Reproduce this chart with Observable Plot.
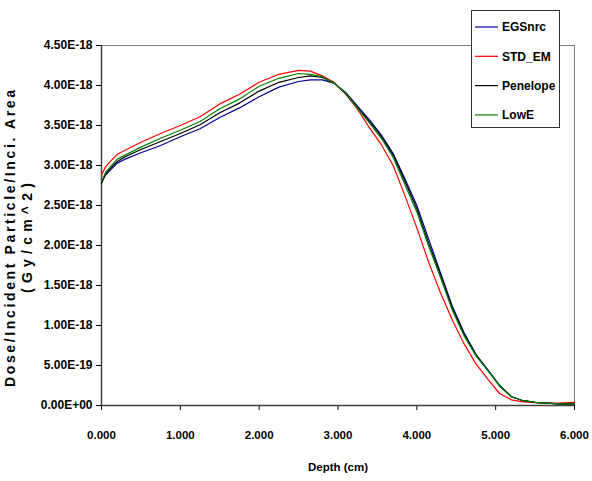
<!DOCTYPE html>
<html>
<head>
<meta charset="utf-8">
<script src="https://cdn.jsdelivr.net/npm/d3@7"></script>
<script src="https://cdn.jsdelivr.net/npm/@observablehq/plot@0.6"></script>
<style>
  body { margin: 0; background: #fff; }
  #chart { width: 592px; height: 481px; }
</style>
</head>
<body>
<div id="chart"></div>
<script>
// Depth-dose profiles (dose in units of 1e-18 Gy/cm^2 per incident particle)
const UNIT = 1e-18;
const depth = [0, 0.05, 0.1, 0.2, 0.3, 0.5, 0.75, 1.0, 1.25, 1.5, 1.75, 2.0, 2.25, 2.5, 2.65, 2.8, 2.95, 3.1, 3.25, 3.4, 3.55, 3.7, 3.85, 4.0, 4.15, 4.3, 4.45, 4.6, 4.75, 4.9, 5.05, 5.2, 5.35, 5.5, 5.65, 5.8, 6.0];
const egsnrc   = [2.78, 2.88, 2.93, 3.03, 3.08, 3.16, 3.25, 3.36, 3.46, 3.60, 3.72, 3.86, 3.98, 4.05, 4.07, 4.07, 4.03, 3.91, 3.74, 3.57, 3.38, 3.15, 2.83, 2.50, 2.08, 1.66, 1.24, 0.91, 0.64, 0.45, 0.25, 0.11, 0.06, 0.04, 0.03, 0.02, 0.02];
const stdEm    = [2.88, 2.98, 3.04, 3.14, 3.19, 3.29, 3.40, 3.50, 3.61, 3.77, 3.89, 4.04, 4.14, 4.19, 4.18, 4.12, 4.04, 3.89, 3.70, 3.47, 3.26, 3.00, 2.62, 2.22, 1.79, 1.41, 1.07, 0.77, 0.52, 0.33, 0.15, 0.07, 0.045, 0.035, 0.03, 0.03, 0.04];
const penelope = [2.78, 2.89, 2.95, 3.05, 3.11, 3.20, 3.30, 3.40, 3.51, 3.66, 3.78, 3.93, 4.04, 4.10, 4.12, 4.10, 4.03, 3.90, 3.72, 3.55, 3.36, 3.13, 2.80, 2.46, 2.03, 1.63, 1.22, 0.89, 0.63, 0.44, 0.25, 0.11, 0.06, 0.04, 0.03, 0.02, 0.02];
const lowE     = [2.80, 2.91, 2.97, 3.08, 3.13, 3.23, 3.34, 3.44, 3.55, 3.71, 3.83, 3.99, 4.09, 4.15, 4.14, 4.11, 4.03, 3.90, 3.71, 3.53, 3.34, 3.10, 2.76, 2.42, 1.99, 1.60, 1.19, 0.87, 0.62, 0.44, 0.24, 0.11, 0.06, 0.04, 0.03, 0.02, 0.02];

const seriesNames = ["EGSnrc", "STD_EM", "Penelope", "LowE"];
const seriesValues = [egsnrc, stdEm, penelope, lowE];
const seriesColors = ["#000099", "#ff0000", "#000000", "#008000"];

const xTicks = [0, 1, 2, 3, 4, 5, 6];
const yTicks = [0, 0.5, 1, 1.5, 2, 2.5, 3, 3.5, 4, 4.5].map(v => v * UNIT);

const xTitle = "Depth (cm)";
const yTitle1 = "Dose/Incident Particle/Inci. Area";
const yTitle2 = "(Gy/cm^2)";

// long table for the line mark
const rows = seriesNames.flatMap((name, i) =>
  depth.map((d, j) => ({ series: name, depth: d, dose: seriesValues[i][j] * UNIT }))
);

// spreadsheet-style scientific labels: 4.50E-18, 0.00E+00
function sci(v) {
  if (v === 0) return "0.00E+00";
  const e = Math.floor(Math.log10(Math.abs(v)) + 1e-9);
  const m = v / Math.pow(10, e);
  return m.toFixed(2) + "E" + (e < 0 ? "-" : "+") + String(Math.abs(e)).padStart(2, "0");
}

const FONT = "'Liberation Sans', Arial, sans-serif";

const chart = Plot.plot({
  width: 592,
  height: 481,
  marginLeft: 101,
  marginRight: 18,
  marginTop: 45,
  marginBottom: 76,
  style: { fontFamily: FONT, fontWeight: "bold", fontSize: "11.5px", background: "#fff", color: "#000" },
  x: { domain: [0, 6] },
  y: { domain: [0, 4.5 * UNIT] },
  color: { domain: seriesNames, range: seriesColors },
  marks: [
    Plot.frame({ stroke: "#808080" }),
    Plot.axisX({ ticks: xTicks, tickFormat: d3.format(".3f"), tickSize: 5, tickPadding: 20, label: null }),
    Plot.axisY({ ticks: yTicks, tickFormat: sci, tickSize: 5, tickPadding: 4, label: null, fontSize: 12 }),
    Plot.ruleX([0], { stroke: "#404040", strokeWidth: 1.5 }),
    Plot.ruleY([0], { stroke: "#404040", strokeWidth: 1.5 }),
    Plot.line(rows, { x: "depth", y: "dose", z: "series", stroke: "series", strokeWidth: 1.2 }),
    Plot.text([xTitle], { frameAnchor: "bottom", dy: 65, fontSize: 11.5, fontWeight: "bold" })
  ]
});

document.getElementById("chart").appendChild(chart);

const svg = d3.select(chart);

// rotated two-line y-axis title, spaced out along the axis
const yTitle = svg.append("g")
  .attr("font-family", FONT)
  .attr("font-weight", "bold")
  .attr("font-size", 14)
  .attr("text-anchor", "start");
[[yTitle1, 10, 387, 297], [yTitle2, 27, 293, 110]].forEach(([txt, x, y, len]) => {
  yTitle.append("text")
    .attr("transform", `translate(${x},${y}) rotate(-90)`)
    .attr("dy", "0.35em")
    .attr("textLength", len)
    .attr("lengthAdjust", "spacing")
    .text(txt);
});

// boxed legend at the upper right
const legend = svg.append("g")
  .attr("font-family", FONT)
  .attr("font-weight", "bold")
  .attr("font-size", 12)
  .attr("text-anchor", "start");
legend.append("rect")
  .attr("x", 471.5).attr("y", 10.5)
  .attr("width", 88).attr("height", 117)
  .attr("fill", "#fff").attr("stroke", "#333");
seriesNames.forEach((name, i) => {
  const cy = 27 + i * 29.3;
  legend.append("line")
    .attr("x1", 475).attr("x2", 498).attr("y1", cy).attr("y2", cy)
    .attr("stroke", seriesColors[i]).attr("stroke-width", 1.2);
  legend.append("text")
    .attr("x", 502).attr("y", cy).attr("dy", "0.35em")
    .text(name);
});
</script>
</body>
</html>
